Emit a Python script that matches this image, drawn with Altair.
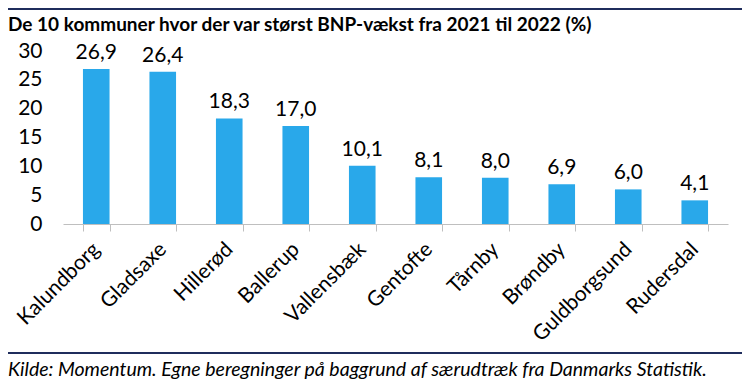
import altair as alt
import pandas as pd

kommuner = ["Kalundborg", "Gladsaxe", "Hillerød", "Ballerup", "Vallensbæk",
            "Gentofte", "Tårnby", "Brøndby", "Guldborgsund", "Rudersdal"]
vaekst = [26.9, 26.4, 18.3, 17.0, 10.1, 8.1, 8.0, 6.9, 6.0, 4.1]
y_ticks = [0, 5, 10, 15, 20, 25, 30]

title_text = "De 10 kommuner hvor der var størst BNP-vækst fra 2021 til 2022 (%)"
source_text = "Kilde: Momentum. Egne beregninger på baggrund af særudtræk fra Danmarks Statistik."

FONT = "Lato"
W, H = 665, 173

df = pd.DataFrame({"kommune": kommuner, "vaekst": vaekst})

x = alt.X("kommune:N", sort=kommuner, title=None,
          scale=alt.Scale(paddingInner=0.6, paddingOuter=0.3),
          axis=alt.Axis(labelAngle=-45, labelAlign="right", labelBaseline="middle",
                        labelFontSize=21, labelFont=FONT, labelColor="#000000",
                        labelPadding=15, tickSize=7, tickBand="extent",
                        labelOverlap=False,
                        tickColor="#BFBFBF", domainColor="#BFBFBF", grid=False))
y = alt.Y("vaekst:Q", title=None,
          scale=alt.Scale(domain=[0, 30], nice=False),
          axis=alt.Axis(values=y_ticks, ticks=False, domain=False, grid=False,
                        labelOverlap=False,
                        labelFontSize=21, labelFont=FONT, labelColor="#000000",
                        labelPadding=21))

bars = alt.Chart(df).mark_bar(color="#29A8EA").encode(x=x, y=y)

labels = alt.Chart(df).transform_calculate(
    lab="replace(format(datum.vaekst, '.1f'), '.', ',')"
).mark_text(baseline="bottom", dy=-6, fontSize=21, font=FONT, color="#000000").encode(
    x=x, y=y, text="lab:N")

line_df = pd.DataFrame({"a": [0]})
top_line = alt.Chart(line_df).mark_rule(color="#1F2D5C", strokeWidth=2).encode(
    x=alt.value(-55), x2=alt.value(679), y=alt.value(-42))
bottom_line = alt.Chart(line_df).mark_rule(color="#1F2D5C", strokeWidth=2).encode(
    x=alt.value(-55), x2=alt.value(679), y=alt.value(302))

title = alt.Chart(line_df).mark_text(align="left", baseline="alphabetic", fontSize=19,
                                     fontWeight="bold", font=FONT, color="#000000").encode(
    x=alt.value(-55), y=alt.value(-20), text=alt.value(title_text))
source = alt.Chart(line_df).mark_text(align="left", baseline="alphabetic", fontSize=19.5,
                                      fontStyle="italic", font=FONT, color="#000000").encode(
    x=alt.value(-55), y=alt.value(325), text=alt.value(source_text))

chart = alt.layer(bars, labels, top_line, bottom_line, title, source).properties(
    width=W, height=H,
    autosize=alt.AutoSizeParams(type="none"),
    padding={"left": 55, "top": 43, "right": 14, "bottom": 156},
).configure_view(stroke=None)

chart.save("out.html", embed_options={"renderer": "svg", "actions": False})
